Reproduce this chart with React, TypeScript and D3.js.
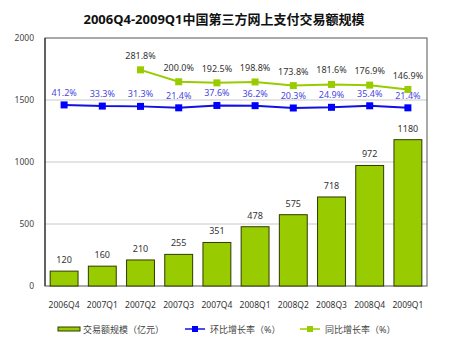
import * as d3 from "d3";

const quarters = ["2006Q4", "2007Q1", "2007Q2", "2007Q3", "2007Q4", "2008Q1", "2008Q2", "2008Q3", "2008Q4", "2009Q1"];
const volume = [120, 160, 210, 255, 351, 478, 575, 718, 972, 1180];
const qoq = [41.2, 33.3, 31.3, 21.4, 37.6, 36.2, 20.3, 24.9, 35.4, 21.4];
const yoy = [null, null, 281.8, 200.0, 192.5, 198.8, 173.8, 181.6, 176.9, 146.9];
const yTicks = [0, 500, 1000, 1500, 2000];

const width = 460;
const height = 360;
const left = 45;
const right = 427;
const top = 38;
const bottom = 286;
const font = "'Noto Sans', 'Noto Sans CJK SC', sans-serif";

export default function App() {
  const x = d3.scaleBand().domain(quarters).range([left, right]).paddingInner(0.27).paddingOuter(0.135);
  const y = d3.scaleLinear().domain([0, 2000]).range([bottom, top]);
  // secondary axis (hidden) for the growth-rate lines
  const y2 = d3.scaleLinear().domain([-1200, 500]).range([bottom, top]);
  const cx = (q: string) => (x(q) as number) + x.bandwidth() / 2;

  const blueLine = d3.line<number>().x((_, i) => cx(quarters[i])).y((d) => y2(d));
  const yoyPts = yoy.map((v, i) => ({ q: quarters[i], v })).filter((d) => d.v !== null) as { q: string; v: number }[];
  const greenLine = d3.line<{ q: string; v: number }>().x((d) => cx(d.q)).y((d) => y2(d.v));

  return (
    <svg width={width} height={height} style={{ position: "absolute", left: 0, top: 0, background: "#fff" }} fontFamily={font}>
      <text x={224} y={24} textAnchor="middle" fontSize={13} fontWeight="bold" fill="#111">
        2006Q4-2009Q1中国第三方网上支付交易额规模
      </text>

      {yTicks.map((t) => (
        <g key={t}>
          {t > 0 && t < 2000 && <line x1={left} x2={right} y1={y(t)} y2={y(t)} stroke="#c8c8c8" />}
          <text x={34} y={y(t) + 3} textAnchor="end" fontSize={8.5} fill="#444">{t}</text>
        </g>
      ))}
      <rect x={left} y={top} width={right - left} height={bottom - top} fill="none" stroke="#555" />
      <line x1={left} x2={left} y1={top} y2={bottom} stroke="#333" strokeWidth={1.2} />

      {volume.map((v, i) => (
        <g key={quarters[i]}>
          <rect x={x(quarters[i])} y={y(v)} width={x.bandwidth()} height={bottom - y(v)} fill="#99cc00" stroke="#2e3a00" strokeWidth={1} />
          <text x={cx(quarters[i])} y={y(v) - 8} textAnchor="middle" fontSize={9} fill="#333">{v}</text>
          <text x={cx(quarters[i])} y={bottom + 22} textAnchor="middle" fontSize={8.5} fill="#333">{quarters[i]}</text>
        </g>
      ))}

      <path d={greenLine(yoyPts) || ""} fill="none" stroke="#99cc00" strokeWidth={2} />
      {yoyPts.map((d) => (
        <g key={d.q}>
          <rect x={cx(d.q) - 3.5} y={y2(d.v) - 3.5} width={7} height={7} fill="#99cc00" />
          <text x={cx(d.q)} y={y2(d.v) - 11} textAnchor="middle" fontSize={9} fill="#333">{d.v.toFixed(1)}%</text>
        </g>
      ))}

      <path d={blueLine(qoq) || ""} fill="none" stroke="#1010e0" strokeWidth={2} />
      {qoq.map((v, i) => (
        <g key={quarters[i]}>
          <rect x={cx(quarters[i]) - 3.5} y={y2(v) - 3.5} width={7} height={7} fill="#0000ff" />
          <text x={cx(quarters[i])} y={y2(v) - 9} textAnchor="middle" fontSize={9} fill="#4848e0">{v.toFixed(1)}%</text>
        </g>
      ))}

      <g fontSize={9} fill="#444">
        <rect x={58} y={327} width={22} height={4} fill="#99cc00" stroke="#2e3a00" />
        <text x={83} y={332.5}>交易额规模（亿元）</text>
        <line x1={185} x2={205} y1={329} y2={329} stroke="#1010e0" strokeWidth={1.5} />
        <rect x={192} y={326} width={6} height={6} fill="#0000ff" />
        <text x={210} y={332.5}>环比增长率（%）</text>
        <line x1={300} x2={320} y1={329} y2={329} stroke="#99cc00" strokeWidth={1.5} />
        <rect x={307} y={326} width={6} height={6} fill="#99cc00" />
        <text x={325} y={332.5}>同比增长率（%）</text>
      </g>
    </svg>
  );
}
